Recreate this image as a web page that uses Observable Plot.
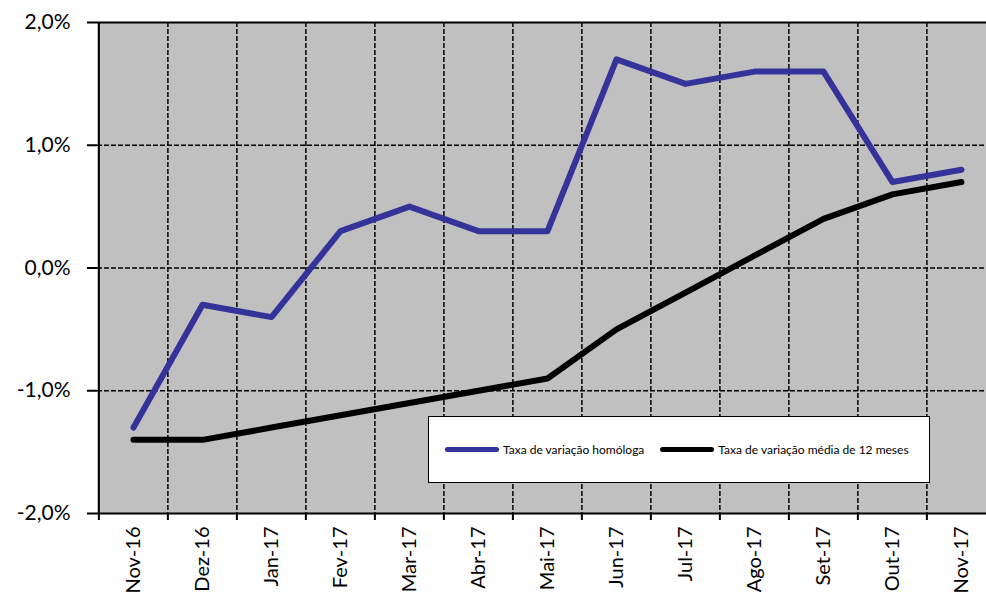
<!DOCTYPE html>
<html>
<head>
<meta charset="utf-8">
<script src="https://cdn.jsdelivr.net/npm/d3@7"></script>
<script src="https://cdn.jsdelivr.net/npm/@observablehq/plot@0.6"></script>
<style>
html, body { margin: 0; padding: 0; overflow: hidden; background: #fff; }
#wrap { position: relative; width: 986px; height: 597px; overflow: hidden; }
#wrap svg { max-width: none !important; }
#legend { position: absolute; left: 428px; top: 416px; width: 502px; height: 67px; background: #fff; border: 1.5px solid #000; box-sizing: border-box; font-family: Lato, "Open Sans", sans-serif; font-size: 12px; color: #000; display: flex; align-items: center; }
.item { display: flex; align-items: center; }
.sw { display: inline-block; width: 54px; height: 5px; border-radius: 3px; margin-right: 4px; }
</style>
</head>
<body>
<div id="wrap"><div id="legend"></div></div>
<script>
const months = ["Nov-16","Dez-16","Jan-17","Fev-17","Mar-17","Abr-17","Mai-17","Jun-17","Jul-17","Ago-17","Set-17","Out-17","Nov-17"];
const homologa = [-1.3, -0.3, -0.4, 0.3, 0.5, 0.3, 0.3, 1.7, 1.5, 1.6, 1.6, 0.7, 0.8];
const media12 = [-1.4, -1.4, -1.3, -1.2, -1.1, -1.0, -0.9, -0.5, -0.2, 0.1, 0.4, 0.6, 0.7];
const yTicks = [-2, -1, 0, 1, 2];
const gridValues = [-1, 0, 1];
const seriesNames = ["Taxa de variação homóloga", "Taxa de variação média de 12 meses"];
const seriesColors = ["#333399", "#000000"];

const W = 997, ML = 97, MR = 0;
const step = (W - ML - MR) / months.length;

const dataH = months.map((m, i) => ({m, v: homologa[i]}));
const dataM = months.map((m, i) => ({m, v: media12[i]}));
const fmt = d => d.toFixed(1).replace(".", ",") + "%";

const chart = Plot.plot({
  width: W, height: 597,
  marginLeft: ML, marginRight: MR, marginTop: 22, marginBottom: 84,
  x: {type: "point", domain: months, padding: 0.5},
  y: {domain: [-2, 2]},
  style: {fontFamily: "Lato, 'Open Sans', sans-serif", fontSize: "21px", color: "#000", background: "transparent", overflow: "visible", maxWidth: "none"},
  marks: [
    Plot.frame({fill: "#c0c0c0", stroke: null}),
    Plot.ruleY(gridValues, {stroke: "#000", strokeWidth: 1.5, strokeDasharray: "5,2"}),
    Plot.ruleX(months.slice(1), {dx: -step / 2, stroke: "#000", strokeWidth: 1.5, strokeDasharray: "5,2"}),
    Plot.ruleY([2, -2], {stroke: "#000", strokeWidth: 2}),
    Plot.ruleX(months.slice(0, 1), {dx: -step / 2, stroke: "#000", strokeWidth: 2}),
    Plot.line(dataM, {x: "m", y: "v", stroke: seriesColors[1], strokeWidth: 6, strokeLinecap: "round", strokeLinejoin: "round"}),
    Plot.line(dataH, {x: "m", y: "v", stroke: seriesColors[0], strokeWidth: 6, strokeLinecap: "round", strokeLinejoin: "round"}),
    Plot.axisY({ticks: yTicks, tickFormat: fmt, tickSize: 10, tickPadding: 17, strokeWidth: 2, label: null}),
    Plot.axisX({tickSize: 0, tickRotate: -90, tickPadding: 13, fontSize: 20, label: null}),
    Plot.axisX({tickSize: 7, tickFormat: () => "", dx: -step / 2, strokeWidth: 2, label: null})
  ]
});
chart.style.maxWidth = "none";
document.getElementById("wrap").prepend(chart);

const legend = document.getElementById("legend");
seriesNames.forEach((name, i) => {
  const it = document.createElement("span");
  it.className = "item";
  it.style.marginLeft = "16px";
  const sw = document.createElement("span");
  sw.className = "sw";
  sw.style.background = seriesColors[i];
  it.appendChild(sw);
  it.appendChild(document.createTextNode(name));
  legend.appendChild(it);
});
</script>
</body>
</html>
